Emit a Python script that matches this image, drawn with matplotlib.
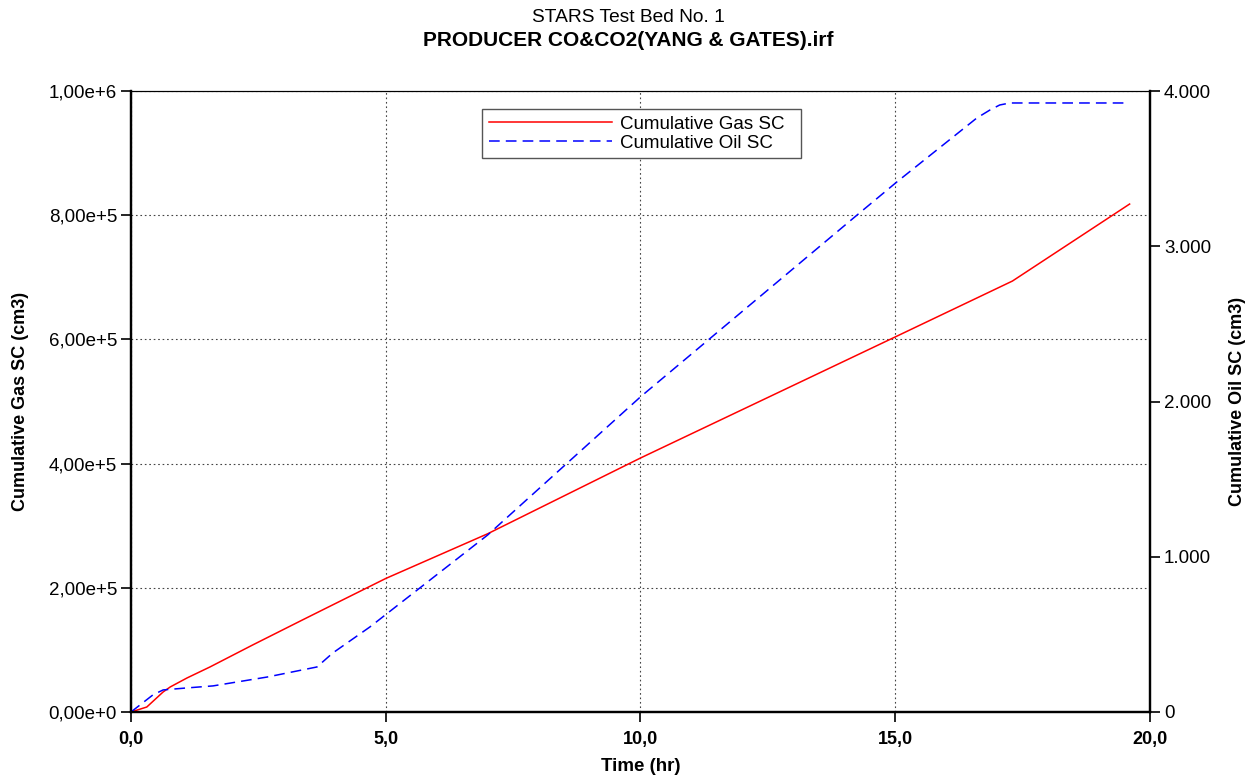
import numpy as np
import matplotlib.pyplot as plt
from matplotlib.ticker import FuncFormatter, MultipleLocator

plt.rcParams['font.family'] = ['Liberation Sans', 'DejaVu Sans']

# values
gas_t = [0.0, 0.31, 0.63, 0.77, 1.10, 1.55, 2.39, 3.36, 3.8, 5.0, 7.0, 10.0, 15.0, 17.3, 19.6]
gas_v = [0, 8000, 32200, 40300, 54800, 72500, 108000, 148000, 166000, 215000, 287000,
         409000, 604000, 694000, 818000]

oil_t = [0.0, 0.43, 0.63, 1.10, 1.61, 2.67, 3.65, 3.96, 4.69, 7.0, 10.0, 14.25, 15.03,
         16.6, 16.86, 17.05, 17.25, 19.57]
oil_v = [0, 110, 142, 155, 168, 225, 290, 380, 548, 1140, 2030, 3201, 3414,
         3826, 3878, 3910, 3923, 3923]

fig = plt.figure(figsize=(12.56, 7.76), dpi=100)
ax = fig.add_axes([0.1043, 0.0825, 0.8113, 0.8002])
ax2 = ax.twinx()

l1, = ax.plot(gas_t, gas_v, color='red', lw=1.1, label='Cumulative Gas SC')
l2, = ax2.plot(oil_t, oil_v, color='blue', lw=1.1, ls=(0, (7, 4)), label='Cumulative Oil SC')

ax.set_xlim(0, 20)
ax.set_ylim(0, 1e6)
ax2.set_ylim(0, 4000)
ax.xaxis.set_major_locator(MultipleLocator(5))
ax.yaxis.set_major_locator(MultipleLocator(2e5))
ax2.yaxis.set_major_locator(MultipleLocator(1000))

ax.xaxis.set_major_formatter(FuncFormatter(lambda v, p: f"{v:.1f}".replace('.', ',')))


def sci(v, p):
    if v == 0:
        return "0,00e+0"
    e = int(np.floor(np.log10(abs(v))))
    m = v / 10 ** e
    return f"{m:.2f}".replace('.', ',') + f"e+{e}"


ax.yaxis.set_major_formatter(FuncFormatter(sci))
ax2.yaxis.set_major_formatter(FuncFormatter(lambda v, p: f"{int(v):,}".replace(',', '.')))

ax.grid(True, color='#444444', ls=(0, (1.5, 2.5)), lw=0.8)
for a in (ax, ax2):
    a.tick_params(labelsize=13.5, length=7, width=1.2, direction='out', pad=3)
    for s in a.spines.values():
        s.set_linewidth(1.6)
    a.spines['top'].set_linewidth(0.8)
ax.tick_params(axis='x', pad=7)
for t in ax.get_xticklabels():
    t.set_fontweight('bold')
    t.set_fontsize(13)

ax.set_xlabel('Time (hr)', fontsize=13.5, fontweight='bold', labelpad=7)
ax.set_ylabel('Cumulative Gas SC (cm3)', fontsize=13, fontweight='bold', labelpad=14)
ax2.set_ylabel('Cumulative Oil SC (cm3)', fontsize=13, fontweight='bold', labelpad=13)

fig.text(0.5, 0.977, 'STARS Test Bed No. 1', ha='center', va='center', fontsize=13.8)
fig.text(0.5, 0.948, 'PRODUCER CO&CO2(YANG & GATES).irf', ha='center', va='center',
         fontsize=15, fontweight='bold')

leg = ax2.legend(handles=[l1, l2], labels=['Cumulative Gas SC  ', 'Cumulative Oil SC  '],
                 loc='upper left', bbox_to_anchor=(0.3838, 0.8595),
                 bbox_transform=fig.transFigure, fontsize=13.5, handlelength=6.6,
                 fancybox=False, framealpha=1, edgecolor='#555555', borderpad=0.35,
                 labelspacing=0.1, handletextpad=0.4, borderaxespad=0)
leg.get_frame().set_linewidth(1.0)

fig.savefig('out.png', dpi=100)
